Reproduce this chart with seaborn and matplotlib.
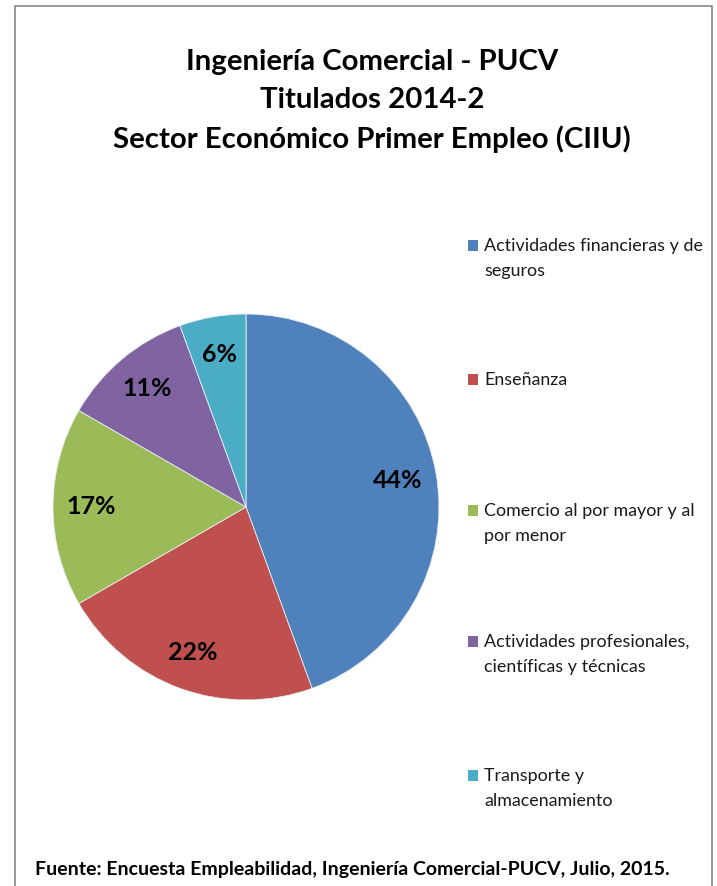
import matplotlib
matplotlib.use("Agg")
import matplotlib.pyplot as plt
import matplotlib.patches as mpatches
import seaborn as sns

# datos: titulados 2014-2 por sector economico (CIIU)
sectores = ["Actividades financieras y de\nseguros",
            "Enseñanza",
            "Comercio al por mayor y al\npor menor",
            "Actividades profesionales,\ncientíficas y técnicas",
            "Transporte y\nalmacenamiento"]
titulados = [8, 4, 3, 2, 1]
colores = ["#4F81BD", "#C0504D", "#9BBB59", "#8064A2", "#4BACC6"]

sns.set_theme(style="white")
plt.rcParams['font.family'] = ['Lato', 'DejaVu Sans']

fig = plt.figure(figsize=(7.17, 8.86), dpi=100)
W, H = 717, 886

# marco del grafico
fig.patches.append(mpatches.Rectangle((15 / W, -0.01), (712 - 15) / W, 1 - 6 / H + 0.01,
                                      transform=fig.transFigure, fill=False,
                                      edgecolor="#868686", linewidth=1.2))

titulos = ["Ingeniería Comercial - PUCV", "Titulados 2014-2",
           "Sector Económico Primer Empleo (CIIU)"]
for t, y in zip(titulos, [62, 100, 139]):
    fig.text(372 / W, 1 - y / H, t, ha="center", va="center",
             fontsize=21.2, fontweight="bold", color="black")

# pie centrado en (246, 507), radio 193 px
r = 193
ax = fig.add_axes([(246 - r) / W, 1 - (507 + r) / H, 2 * r / W, 2 * r / H])
wedges, textos, pcts = ax.pie(titulados, colors=colores, startangle=90, counterclock=False,
                              autopct=lambda p: f"{p:.0f}%", pctdistance=0.8,
                              wedgeprops=dict(edgecolor="#e8eef5", linewidth=0.6),
                              textprops=dict(fontsize=18, fontweight="bold", color="black"))
ax.set_xlim(-1, 1)
ax.set_ylim(-1, 1)
ax.set_aspect("auto")
ax.axis("off")

# leyenda
for lab, c, y in zip(sectores, colores, [245, 379, 510, 641, 775]):
    fig.patches.append(mpatches.Rectangle((468 / W, 1 - (y + 5.5) / H), 10.5 / W, 10.5 / H,
                                          transform=fig.transFigure, facecolor=c, edgecolor="none"))
    fig.text(484 / W, 1 - (y - 7) / H, lab, ha="left", va="top", fontsize=12.9,
             color="#1a1a1a", linespacing=1.7)

fig.text(35 / W, 1 - 869 / H, "Fuente: Encuesta Empleabilidad, Ingeniería Comercial-PUCV, Julio, 2015.",
         ha="left", va="center", fontsize=14, fontweight="bold", color="black")

fig.savefig("out.png", dpi=100)
